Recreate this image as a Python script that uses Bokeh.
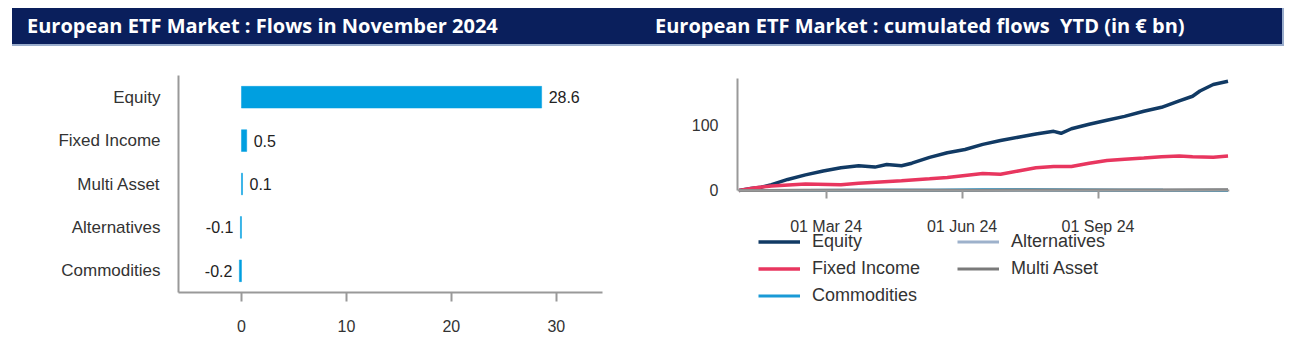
from datetime import datetime
from bokeh.plotting import figure
from bokeh.models import (Range1d, FactorRange, Div, Spacer, ColumnDataSource,
                          FixedTicker, DatetimeTickFormatter, Legend, LegendItem)
from bokeh.layouts import column, row
from bokeh.embed import file_html
from bokeh.resources import INLINE

# ---------------- data ----------------
left_title = "European ETF Market : Flows in November 2024"
right_title = "European ETF Market : cumulated flows  YTD (in € bn)"

categories = ["Equity", "Fixed Income", "Multi Asset", "Alternatives", "Commodities"]
nov_flows = [28.6, 0.5, 0.1, -0.1, -0.2]
bar_ticks = [0, 10, 20, 30]

equity_dates = ["2024-01-02", "2024-01-10", "2024-01-17", "2024-01-24", "2024-02-04",
                "2024-02-16", "2024-02-28", "2024-03-11", "2024-03-23", "2024-04-03",
                "2024-04-11", "2024-04-21", "2024-04-28", "2024-05-10", "2024-05-22",
                "2024-06-03", "2024-06-15", "2024-06-27", "2024-07-09", "2024-07-21",
                "2024-08-02", "2024-08-07", "2024-08-14", "2024-08-26", "2024-09-07",
                "2024-09-19", "2024-10-02", "2024-10-14", "2024-10-26", "2024-11-04",
                "2024-11-09", "2024-11-18", "2024-11-28"]
equity_values = [0, 3, 5, 9, 17, 24, 30, 35, 38, 36, 40, 38, 42, 51, 58, 63, 71, 77,
                 82, 87, 91, 88, 95, 102, 108, 114, 122, 128, 138, 145, 153, 163, 168]

fixed_dates = ["2024-01-02", "2024-01-12", "2024-01-24", "2024-02-16", "2024-03-11",
               "2024-03-23", "2024-04-21", "2024-05-10", "2024-05-22", "2024-06-03",
               "2024-06-15", "2024-06-27", "2024-07-09", "2024-07-21", "2024-08-02",
               "2024-08-14", "2024-08-26", "2024-09-07", "2024-09-19", "2024-10-02",
               "2024-10-14", "2024-10-26", "2024-11-04", "2024-11-18", "2024-11-28"]
fixed_values = [0, 4, 7, 10, 9, 11, 15, 18, 20, 23, 26, 25, 30, 35, 37, 37, 42, 46,
                48, 50, 52, 53, 52, 51, 53]

other_dates = ["2024-01-02", "2024-02-15", "2024-04-01", "2024-05-15", "2024-06-15",
               "2024-07-15", "2024-08-15", "2024-09-15", "2024-10-15", "2024-11-28"]
commodities_values = [0, 0.1, 0.2, 0.5, 1.0, 1.2, 0.8, 0.4, 0.2, 0.1]
alternatives_values = [0, 0.1, 0.2, 0.3, 0.3, 0.4, 0.4, 0.5, 0.5, 0.5]
multi_values = [0, 0.2, 0.3, 0.4, 0.5, 0.6, 0.7, 0.8, 0.9, 1.0]

date_ticks = ["2024-03-01", "2024-06-01", "2024-09-01"]
line_ticks = [0, 100]

# ---------------- styles ----------------
NAVY = "#0a1f5c"
FONT = "Liberation Sans"
TXT = "#333333"
AX = "#999999"


def to_dt(lst):
    return [datetime.strptime(d, "%Y-%m-%d") for d in lst]


def title_div(text, width, pad):
    return Div(text=text, width=width, height=38, margin=0,
               styles={"background-color": NAVY, "color": "white",
                       "font-family": "Open Sans", "font-weight": "bold",
                       "font-size": "20px", "line-height": "36px",
                       "padding-left": f"{pad}px", "box-sizing": "border-box",
                       "white-space": "pre", "overflow": "hidden",
                       "border-bottom": "2px solid #9aadcc"})


div1 = title_div(left_title, 628, 15)
div2 = title_div(right_title, 644, 15)
div2.styles["border-right"] = "2px solid #9aadcc"

# ---------------- left : bar chart ----------------
p1 = figure(width=640, height=297, output_backend="svg", toolbar_location=None,
            y_range=FactorRange(factors=list(reversed(categories))),
            x_range=Range1d(-6.0, 34.4),
            min_border_left=178, min_border_right=38, min_border_top=29,
            min_border_bottom=51)
src = ColumnDataSource(dict(
    cat=categories, val=nov_flows,
    lab=[f"{v:.1f}" for v in nov_flows],
    align=["left" if v >= 0 else "right" for v in nov_flows],
    xoff=[7 if v >= 0 else -7 for v in nov_flows]))
p1.hbar(y="cat", left=0, right="val", height=0.5, source=src,
        fill_color="#009fe0", line_color="#009fe0", line_width=0.5)
p1.text(x="val", y="cat", text="lab", x_offset="xoff", text_align="align",
        text_baseline="middle", text_font_size="16px", text_color="#222222",
        text_font={"value": FONT}, source=src)

p1.xaxis.ticker = FixedTicker(ticks=bar_ticks)
for ax in (p1.xaxis[0], p1.yaxis[0]):
    ax.axis_line_color = AX
    ax.axis_line_width = 2
    ax.major_tick_line_color = AX
    ax.major_tick_line_width = 2
    ax.major_tick_in = 0
    ax.major_tick_out = 9
    ax.minor_tick_line_color = None
    ax.major_label_text_font = FONT
    ax.major_label_text_color = TXT
    ax.major_label_text_font_size = "16px"
p1.xaxis.major_label_standoff = 18
p1.yaxis.major_tick_line_color = None
p1.yaxis.major_tick_out = 0
p1.yaxis.major_label_standoff = 18
p1.yaxis.major_label_text_font_size = "17px"
p1.grid.visible = False
p1.outline_line_color = None

# ---------------- right : line chart ----------------
# frame spans the whole lower area; the x axis is pinned at y = 0 and the
# legend sits inside the frame below it
p2 = figure(width=651, height=297, output_backend="svg", toolbar_location=None,
            x_axis_type="datetime",
            x_range=Range1d(datetime(2024, 1, 1), datetime(2024, 11, 29)),
            y_range=Range1d(-220.0, 172.3),
            min_border_left=97, min_border_right=62, min_border_top=32,
            min_border_bottom=10)

r_alt = p2.line(to_dt(other_dates), alternatives_values, color="#9db1cb", line_width=3)
r_com = p2.line(to_dt(other_dates), commodities_values, color="#1a9ad6", line_width=3)
r_eq = p2.line(to_dt(equity_dates), equity_values, color="#113a64", line_width=3.5)
r_fi = p2.line(to_dt(fixed_dates), fixed_values, color="#e8365f", line_width=3.5)
r_ma = p2.line(to_dt(other_dates), multi_values, color="#7a7a7a", line_width=3)

p2.xaxis.ticker = FixedTicker(ticks=[datetime.strptime(d, "%Y-%m-%d").timestamp() * 1000
                                     for d in date_ticks])
p2.xaxis.formatter = DatetimeTickFormatter(days="%d %b %y", months="%d %b %y",
                                           years="%d %b %y")
p2.xaxis.fixed_location = 0
p2.yaxis.ticker = FixedTicker(ticks=line_ticks)
p2.yaxis.bounds = (0, 172.3)
for ax in (p2.xaxis[0], p2.yaxis[0]):
    ax.axis_line_color = AX
    ax.axis_line_width = 2
    ax.major_tick_line_color = AX
    ax.major_tick_line_width = 2
    ax.major_tick_in = 0
    ax.major_tick_out = 8
    ax.minor_tick_line_color = None
    ax.major_label_text_font = FONT
    ax.major_label_text_color = TXT
    ax.major_label_text_font_size = "16px"
p2.xaxis.major_label_standoff = 20
p2.yaxis.major_tick_line_color = None
p2.yaxis.major_tick_out = 0
p2.yaxis.major_label_standoff = 19
p2.grid.visible = False
p2.outline_line_color = None

legend = Legend(items=[LegendItem(label="Equity", renderers=[r_eq]),
                       LegendItem(label="Fixed Income", renderers=[r_fi]),
                       LegendItem(label="Commodities", renderers=[r_com]),
                       LegendItem(label="Alternatives", renderers=[r_alt]),
                       LegendItem(label="Multi Asset", renderers=[r_ma])],
                location=(21, 27), orientation="vertical", ncols=2,
                padding=0, margin=0, spacing=6, border_line_color=None,
                background_fill_alpha=0, glyph_width=42, glyph_height=17,
                label_height=17, label_width=139, label_standoff=12,
                label_text_font=FONT, label_text_font_size="18px",
                label_text_color=TXT)
p2.add_layout(legend, "center")

for p in (p1, p2):
    p.frame_align = False

layout = column(
    Spacer(width=1291, height=8, margin=0),
    row(Spacer(width=12, height=38, margin=0), div1, div2, spacing=0),
    row(p1, p2, spacing=0),
    spacing=0)

open("out.html", "w").write(file_html(layout, INLINE))
